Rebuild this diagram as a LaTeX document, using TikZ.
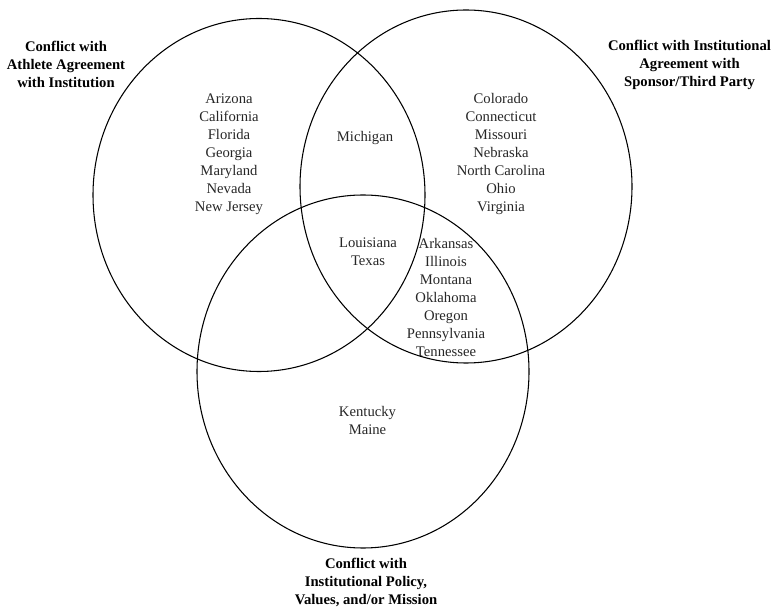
\documentclass[tikz,border=0pt]{standalone}
\usepackage{fontspec}
\setmainfont{Liberation Serif}
\begin{document}
\begin{tikzpicture}[x=0.75pt,y=-0.75pt,
  ring/.style={draw=black,line width=0.8pt},
  states/.style={inner sep=0pt,align=center,font=\fontsize{11}{13.5}\selectfont,text=black!85},
  setlabel/.style={inner sep=0pt,align=center,font=\fontsize{11}{13.5}\selectfont\bfseries,text=black}]
\useasboundingbox (0,0) rectangle (775,609);
\coordinate (cA) at (259,195);
\coordinate (cB) at (466,186.5);
\coordinate (cC) at (363,371.5);
\draw[ring] (cA) ellipse [x radius=124.5pt, y radius=132.375pt];
\draw[ring] (cB) ellipse [x radius=124.5pt, y radius=132.375pt];
\draw[ring] (cC) ellipse [x radius=124.5pt, y radius=132.375pt];
\node[setlabel] (lA) at (66,64) {Conflict with\\Athlete Agreement\\with Institution};
\node[setlabel] (lB) at (689.5,65) {Conflict with Institutional\\Agreement with\\Sponsor/Third Party};
\node[setlabel] (lC) at (366,582) {Conflict with\\Institutional Policy,\\Values, and/or Mission};
\node[states] (sA) at (229,154) {Arizona\\California\\Florida\\Georgia\\Maryland\\Nevada\\New Jersey};
\node[states] (sAB) at (365,138) {Michigan};
\node[states] (sB) at (501,154) {Colorado\\Connecticut\\Missouri\\Nebraska\\North Carolina\\Ohio\\Virginia};
\node[states] (sABC) at (368,252) {Louisiana\\Texas};
\node[states] (sBC) at (446,297) {Arkansas\\Illinois\\Montana\\Oklahoma\\Oregon\\Pennsylvania\\Tennessee};
\node[states] (sC) at (367.5,420) {Kentucky\\Maine};
\end{tikzpicture}
\end{document}
